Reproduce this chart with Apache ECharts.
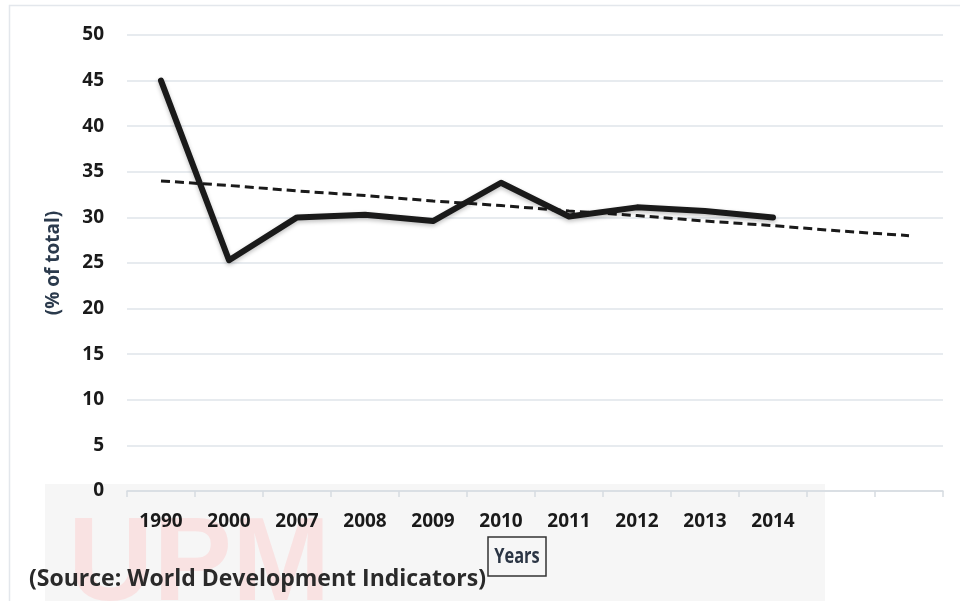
<!DOCTYPE html>
<html>
<head>
<meta charset="utf-8">
<script src="https://cdn.jsdelivr.net/npm/echarts@6/dist/echarts.min.js"></script>
<style>
  html, body { margin: 0; padding: 0; background: #fff; }
  #main { width: 960px; height: 601px; }
</style>
</head>
<body>
<div id="main"></div>
<script>
// categories (two blank slots at the end, the trend line runs into them)
var years = ['1990', '2000', '2007', '2008', '2009', '2010', '2011', '2012', '2013', '2014', '', ''];
// % of total
var share = [45.0, 25.3, 30.0, 30.3, 29.6, 33.8, 30.1, 31.1, 30.7, 30.0, null, null];
// dashed trend line as drawn
var trend = [34.0, 33.5, 32.9, 32.4, 31.8, 31.3, 30.7, 30.2, 29.6, 29.1, 28.5, 28.0];
var yTicks = [0, 50, 5]; // min, max, step

var labelFont = {color: '#1a1a1a', fontFamily: 'Open Sans', fontWeight: 'bold', fontSize: 19};

var myChart = echarts.init(document.getElementById('main'));
var option = {
    animation: false,
    graphic: [
        // faint watermark behind the bottom of the chart
        {type: 'rect', z: -10, shape: {x: 45, y: 484, width: 780, height: 117}, style: {fill: '#f6f6f6'}},
        {type: 'text', z: -9, left: 68, top: 508, style: {text: 'UPM', fill: '#f9e2e2', font: 'bold 118px "Liberation Sans"'}},
        // chart frame
        {type: 'rect', z: -5, shape: {x: 9.5, y: 5.5, width: 970, height: 620}, style: {fill: 'none', stroke: '#e3e7ec', lineWidth: 1.5}},
        // "Years" boxed axis title
        {type: 'rect', shape: {x: 488, y: 537, width: 58, height: 39}, style: {fill: 'none', stroke: '#333', lineWidth: 1.5}},
        {type: 'text', x: 517, y: 557, scaleX: 0.78, style: {text: 'Years', fill: '#2b3544', align: 'center', verticalAlign: 'middle', font: 'bold 21px "Open Sans", sans-serif'}},
        // source note
        {type: 'text', left: 29, top: 568, style: {text: '(Source: World Development Indicators)', fill: '#2a2a2a', font: 'bold 23px "Open Sans", sans-serif'}}
    ],
    grid: {left: 127, right: 17, top: 35, bottom: 110},
    xAxis: {
        type: 'category',
        data: years,
        boundaryGap: true,
        axisLine: {lineStyle: {color: '#d6dbe1', width: 1.5}},
        axisTick: {show: true, length: 6, lineStyle: {color: '#d6dbe1', width: 1.5}},
        axisLabel: Object.assign({margin: 21}, labelFont)
    },
    yAxis: {
        type: 'value',
        min: yTicks[0],
        max: yTicks[1],
        interval: yTicks[2],
        name: '(% of total)',
        nameLocation: 'middle',
        nameGap: 64,
        nameTextStyle: {color: '#2b3a4c', fontFamily: 'Open Sans', fontWeight: 'bold', fontSize: 19},
        axisLine: {show: false},
        axisTick: {show: false},
        axisLabel: Object.assign({margin: 23}, labelFont),
        splitLine: {lineStyle: {color: '#dfe4ea', width: 1.5}}
    },
    series: [
        {
            name: 'share',
            type: 'line',
            data: share,
            symbol: 'none',
            z: 3,
            lineStyle: {color: '#1a1a1a', width: 6, cap: 'round', join: 'round',
                shadowColor: 'rgba(0,0,0,0.25)', shadowBlur: 4, shadowOffsetY: 2}
        },
        {
            name: 'trend',
            type: 'line',
            data: trend,
            symbol: 'none',
            z: 2,
            lineStyle: {color: '#1a1a1a', width: 3, type: [9, 5]}
        }
    ]
};
myChart.setOption(option);
</script>
</body>
</html>
